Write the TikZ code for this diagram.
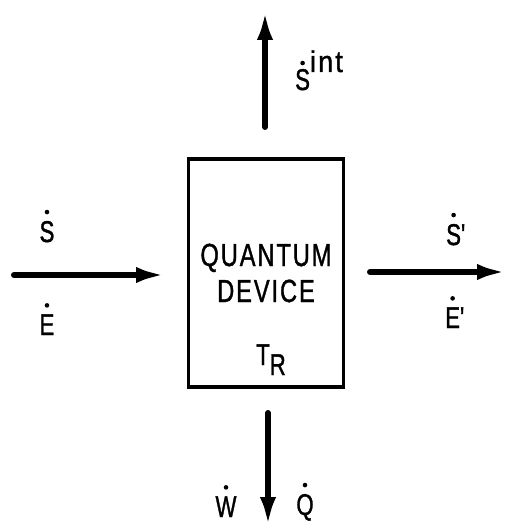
\documentclass[tikz,border=0pt]{standalone}
\usepackage{fontspec}
\setmainfont{Liberation Sans}[LetterSpace=8,FakeBold=1.4]
\usetikzlibrary{arrows.meta}
\newcommand{\nar}[1]{\scalebox{0.74}[1]{#1}}
\newcommand{\dt}[2][9pt]{\leavevmode\setbox0\hbox{#2}\makebox[0pt][l]{\makebox[\wd0]{\raisebox{\dimexpr\ht0+#1\relax}{\tikz[baseline=0pt]\fill (0,0) circle (2.3pt);}}}\box0}
\begin{document}
\begin{tikzpicture}[x=1pt,y=-1pt,
  flow/.style={line width=6pt,line cap=round,-{Latex[length=30pt,width=16pt]}},
  lbl/.style={font=\fontsize{30}{30}\selectfont,inner sep=0pt},
  dev/.style={draw,line width=3.2pt,minimum width=155pt,minimum height=228pt,inner sep=0pt,
    font=\fontsize{32}{32}\selectfont,align=center}]
\useasboundingbox (0,0) rectangle (509,529);
\node[dev] (box) at (266,273) {\nar{QUANTUM}\\[4pt]\nar{DEVICE}};
\node[lbl,anchor=base west] (tr) at (256,365) {\nar{T\raisebox{-10pt}{R}}};
% arrows
\coordinate (tin) at (265,127);
\coordinate (tout) at (265,10);
\draw[flow] (tin) -- (tout);
\coordinate (lin) at (14,275);
\coordinate (lout) at (166,275);
\draw[flow] (lin) -- (lout);
\coordinate (rin) at (370,272);
\coordinate (rout) at (507,272);
\draw[flow] (rin) -- (rout);
\coordinate (bin) at (268,413);
\coordinate (bout) at (268,527);
\draw[flow] (bin) -- (bout);
% labels
\node[lbl,anchor=base west] (sint) at (295,90) {\dt[6pt]{\nar{S}}\raisebox{18pt}{\scalebox{0.9}[1]{int}}};
\node[lbl,anchor=base] (s) at (47,242) {\dt{\nar{S}}};
\node[lbl,anchor=base] (e) at (47,335) {\dt{\nar{E}}};
\node[lbl,anchor=base west] (s1) at (446,245) {\dt{\nar{S}}\nar{\textquotesingle}};
\node[lbl,anchor=base west] (e1) at (445,328) {\dt{\nar{E}}\nar{\textquotesingle}};
\node[lbl,anchor=base] (w) at (226,517) {\dt{\nar{W}}};
\node[lbl,anchor=base] (q) at (305,515) {\dt{\nar{Q}}};
\end{tikzpicture}
\end{document}
